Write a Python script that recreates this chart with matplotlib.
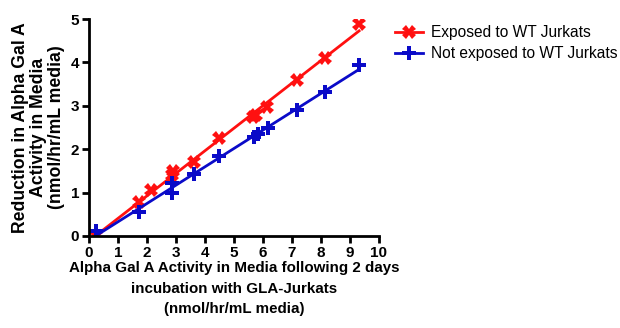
import numpy as np
import matplotlib
matplotlib.use("Agg")
import matplotlib.pyplot as plt

plt.rcParams['font.family'] = ['Liberation Sans', 'DejaVu Sans']

# data
x_exposed = [0.25, 1.73, 2.13, 2.88, 2.90, 3.63, 4.50, 5.65, 5.77, 6.14, 7.19, 8.15, 9.32]
y_exposed = [0.00, 0.79, 1.06, 1.40, 1.50, 1.71, 2.25, 2.75, 2.78, 2.98, 3.59, 4.11, 4.88]
x_not = [0.25, 1.73, 2.88, 2.88, 3.63, 4.50, 5.68, 5.82, 6.17, 7.19, 8.15, 9.32]
y_not = [0.12, 0.55, 1.00, 1.21, 1.43, 1.84, 2.27, 2.36, 2.50, 2.90, 3.31, 3.94]
labels = ["Exposed to WT Jurkats", "Not exposed to WT Jurkats"]

red = "#ff1010"
blue = "#0a0ac8"

fig = plt.figure(figsize=(6.2, 3.28), dpi=100)
ax = fig.add_axes([0.1435, 0.2805, 0.4675, 0.6615])

for xs, ys, col, mk, lab in [(x_exposed, y_exposed, red, "X", labels[0]),
                              (x_not, y_not, blue, "P", labels[1])]:
    xs = np.array(xs)
    ys = np.array(ys)
    k, b = np.polyfit(xs, ys, 1)
    xx = np.array([xs.min(), xs.max()])
    ax.plot(xx, k * xx + b, color=col, lw=2)
    ax.plot(xs, ys, linestyle="none", marker=mk, color=col, ms=9.5, mew=0)
    ax.plot([], [], color=col, lw=2, marker=mk, ms=9.5, mew=0, label=lab)

ax.set_xlim(0, 10)
ax.set_ylim(0, 5)
ax.set_xticks(range(0, 11))
ax.set_yticks(range(0, 6))
for s in ["top", "right"]:
    ax.spines[s].set_visible(False)
for s in ["left", "bottom"]:
    ax.spines[s].set_linewidth(2)
ax.tick_params(width=2, length=5, labelsize=11, pad=2)
for t in ax.get_xticklabels() + ax.get_yticklabels():
    t.set_fontweight("bold")

ax.set_xlabel("Alpha Gal A Activity in Media following 2 days\nincubation with GLA-Jurkats\n(nmol/hr/mL media)",
              fontsize=10.9, fontweight="bold", labelpad=1, linespacing=1.6)
ax.set_ylabel("Reduction in Alpha Gal A\nActivity in Media\n(nmol/hr/mL media)",
              fontsize=12.7, fontweight="bold", labelpad=4, linespacing=1.1)

ax.legend(loc="upper left", bbox_to_anchor=(1.035, 1.0), frameon=False,
          fontsize=11.2, handlelength=1.8, borderaxespad=0, labelspacing=0.4,
          handletextpad=0.5)

fig.savefig("out.png", dpi=100)
